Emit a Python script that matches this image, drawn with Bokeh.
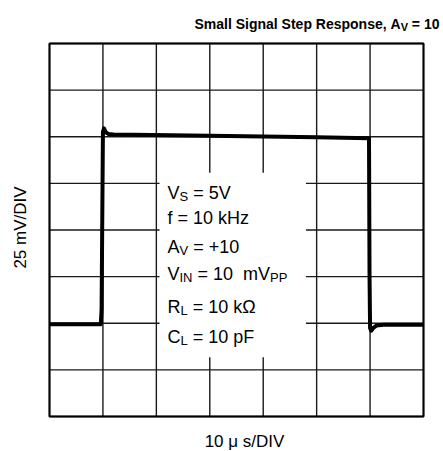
from bokeh.plotting import figure
from bokeh.models import Label, Range1d
from bokeh.embed import file_html
from bokeh.resources import INLINE

# ---- data (in scope divisions) ----
x_ticks = [0, 1, 2, 3, 4, 5, 6, 7]
y_ticks = [0, 1, 2, 3, 4, 5, 6, 7, 8]
t_div = [0.0, 0.96, 0.975, 1.0, 1.02, 1.05, 1.1, 1.2, 3.0, 5.0, 5.98, 5.99, 6.0, 6.02, 6.06, 6.12, 6.25, 7.0]
v_div = [1.98, 1.98, 2.3, 6.1, 6.18, 6.1, 6.06, 6.05, 6.02, 5.99, 5.97, 3.0, 1.9, 1.84, 1.9, 1.95, 1.97, 1.97]

NB = "\u00a0"
title_parts = [("Small Signal Step Response, A", "n"), ("V", "s"), (" = 10", "n")]
note_lines = [
    [("V", "n"), ("S", "s"), (" = 5V", "n")],
    [("f = 10 kHz", "n")],
    [("A", "n"), ("V", "s"), (" = +10", "n")],
    [("V", "n"), ("IN", "s"), (" = 10  mV", "n"), ("PP", "s")],
    [("R", "n"), ("L", "s"), (" = 10 k\u03a9", "n")],
    [("C", "n"), ("L", "s"), (" = 10 pF", "n")],
]
x_label = "10 \u03bc s/DIV"
y_label = "25 mV/DIV"

FONT = "Liberation Sans"

W = dict(zip(" =+0123456789VSfkHzAINmPRL\u03a9CpFDs/\u03bc,aligntero",
             [278, 584, 584] + [556] * 10 +
             [667, 667, 278, 500, 722, 500, 667, 278, 722, 833, 667, 722, 556, 768, 722, 556, 611, 722, 500, 278, 576, 278, 556, 222, 222, 556, 556, 278, 556, 333, 556]))
WB = dict(W)
WB.update({"m": 889, "l": 278, "i": 278, "g": 611, "n": 611, "t": 333, "p": 611, "s": 556, "o": 611, "A": 722, "e": 556, "r": 389})


def width(s, size, table):
    return sum(table.get(c, 556) for c in s) * size / 1000.0


# grid box in canvas pixels: left 49, right 423, top 43, bottom 416
PXX = 374 / 7.0
PXY = 373 / 8.0
CW, CH = 443, 451

p = figure(width=CW, height=CH, output_backend="svg", toolbar_location=None,
           x_axis_location=None, y_axis_location=None,
           x_range=Range1d(-49 / PXX, (CW - 49) / PXX),
           y_range=Range1d((416 - CH) / PXY, 416 / PXY),
           min_border=0)
p.outline_line_color = None
p.background_fill_color = "white"
p.border_fill_color = "white"
p.grid.visible = False

# grid lines
x0, x1 = x_ticks[0], x_ticks[-1]
y0, y1 = y_ticks[0], y_ticks[-1]
p.segment(x0=x_ticks, x1=x_ticks, y0=[y0] * len(x_ticks), y1=[y1] * len(x_ticks),
          line_color="#1a1a1a", line_width=1.4)
p.segment(x0=[x0] * len(y_ticks), x1=[x1] * len(y_ticks), y0=y_ticks, y1=y_ticks,
          line_color="#1a1a1a", line_width=1.4)

# white box behind the notes
p.quad(left=[2.06], right=[4.8], bottom=[1.27], top=[5.23], fill_color="white", line_color=None)

# outline
p.quad(left=[x0], right=[x1], bottom=[y0], top=[y1], fill_color=None, line_color="black", line_width=2)

p.line(t_div, v_div, line_color="black", line_width=4, line_join="round")


def put_parts(parts, x0_px, base_px, size, sub_size, sub_drop, table, bold=False):
    x = x0_px
    for txt, kind in parts:
        sz = size if kind == "n" else sub_size
        yb = base_px + (0 if kind == "n" else sub_drop)
        p.add_layout(Label(x=(x - 49) / PXX, y=(416 - yb) / PXY, text=txt.replace(" ", NB),
                           text_font=FONT, text_font_size=f"{sz}px",
                           text_font_style="bold" if bold else "normal",
                           text_color="black", text_baseline="alphabetic", text_align="left"))
        x += width(txt, sz, table)


tw = sum(width(t, 14 if k == "n" else 11, WB) for t, k in title_parts)
put_parts(title_parts, 439 - tw, 23, 14, 11, 3, WB, bold=True)

bases = [192, 217, 246, 273, 306, 336]
for parts, b in zip(note_lines, bases):
    put_parts(parts, 167, b, 18, 13, 4, W)

p.add_layout(Label(x=(244 - 49) / PXX, y=(416 - 441) / PXY, text=x_label.replace(" ", NB), text_font=FONT,
                   text_font_size="17px", text_align="center", text_baseline="alphabetic", text_color="black"))
p.add_layout(Label(x=(20 - 49) / PXX, y=(416 - 227) / PXY, text=y_label.replace(" ", NB), text_font=FONT,
                   text_font_size="17px", text_align="center", text_baseline="alphabetic",
                   angle=1.5708, text_color="black"))

open("out.html", "w").write(file_html(p, INLINE))
